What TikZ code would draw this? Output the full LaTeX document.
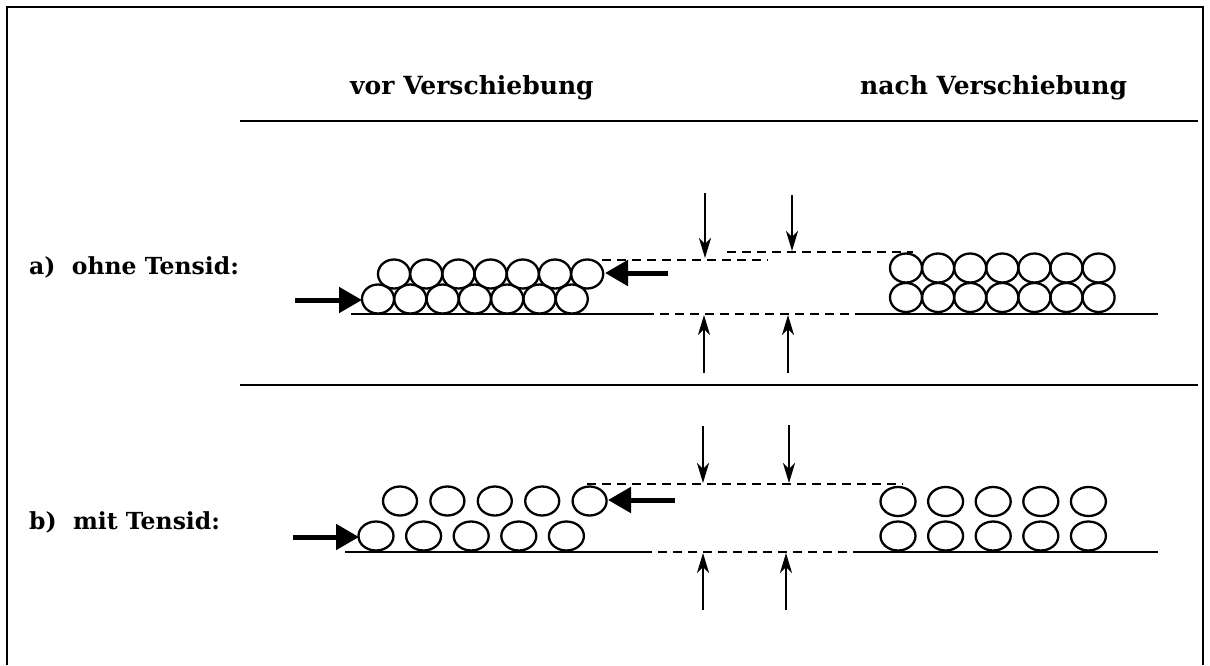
\documentclass[tikz,border=0pt]{standalone}
\usepackage{fontspec}
\setmainfont{DejaVu Serif}
\usetikzlibrary{arrows.meta}
\begin{document}
\begin{tikzpicture}[x=1pt,y=-1pt,
  lbl/.style={anchor=base west,inner sep=0pt,font=\fontsize{23.5}{26}\selectfont\bfseries},
  ttl/.style={anchor=base west,inner sep=0pt,font=\fontsize{25}{28}\selectfont\bfseries},
  solidline/.style={line width=2.4pt},
  dashline/.style={line width=2.4pt,dash pattern=on 9pt off 6pt},
  particle/.style={line width=2.3pt},
  thinarrow/.style={line width=2.2pt,-{Stealth[length=20pt,width=12pt,inset=6pt]}},
  pusharrow/.style={line width=5pt,-{Triangle[length=23pt,width=25pt]}}]
\useasboundingbox (0,0) rectangle (1210,665);
% frame
\draw[line width=2pt] (7,665) -- (7,7) -- (1203,7) -- (1203,665);
% headings
\node[ttl] (h1) at (350,94) {vor Verschiebung};
\node[ttl] (h2) at (860,94) {nach Verschiebung};
\node[lbl] (la) at (29,274) {a)\ \ ohne Tensid:};
\node[lbl] (lb) at (29,529) {b)\ \ mit Tensid:};
% separators
\coordinate (s1a) at (240,121); \coordinate (s1b) at (1198,121);
\coordinate (s2a) at (240,385); \coordinate (s2b) at (1198,385);
\draw[solidline] (s1a) -- (s1b);
\draw[solidline] (s2a) -- (s2b);

% ---------- row a ----------
\foreach \i in {0,...,6}{
  \draw[particle] (394+32.2*\i,274) ellipse [x radius=16,y radius=14.5];
  \draw[particle] (378+32.3*\i,299) ellipse [x radius=16,y radius=14.5];
  \draw[particle] (906+32.1*\i,268) ellipse [x radius=16,y radius=14.5];
  \draw[particle] (906+32.1*\i,297.5) ellipse [x radius=16,y radius=14.5];
}
\coordinate (aB0) at (351,314); \coordinate (aB1) at (645,314);
\coordinate (aB2) at (855,314); \coordinate (aB3) at (1158,314);
\draw[solidline] (aB0) -- (aB1);
\draw[dashline] (aB1) -- (aB2);
\draw[solidline] (aB2) -- (aB3);
\coordinate (aU0) at (602,260); \coordinate (aU1) at (768,260);
\draw[dashline] (aU0) -- (aU1);
\coordinate (aV0) at (727,252); \coordinate (aV1) at (913,252);
\draw[dashline] (aV0) -- (aV1);
% push arrows a
\coordinate (aPl0) at (295,300); \coordinate (aPl1) at (362,300);
\coordinate (aPr0) at (668,273); \coordinate (aPr1) at (605,273);
\draw[pusharrow] (aPl0) -- (aPl1);
\draw[pusharrow] (aPr0) -- (aPr1);
% vertical arrows a
\coordinate (aD1s) at (705,193); \coordinate (aD1e) at (705,258);
\coordinate (aD2s) at (792,195); \coordinate (aD2e) at (792,251);
\coordinate (aE1s) at (704,373); \coordinate (aE1e) at (704,315);
\coordinate (aE2s) at (788,373); \coordinate (aE2e) at (788,315);
\draw[thinarrow] (aD1s) -- (aD1e);
\draw[thinarrow] (aD2s) -- (aD2e);
\draw[thinarrow] (aE1s) -- (aE1e);
\draw[thinarrow] (aE2s) -- (aE2e);

% ---------- row b ----------
\foreach \i in {0,...,4}{
  \draw[particle] (400+47.4*\i,501) ellipse [x radius=17,y radius=14.5];
  \draw[particle] (376+47.6*\i,536) ellipse [x radius=17.5,y radius=14.5];
  \draw[particle] (898+47.6*\i,501.5) ellipse [x radius=17.5,y radius=14.5];
  \draw[particle] (898+47.6*\i,536) ellipse [x radius=17.5,y radius=14.5];
}
\coordinate (bB0) at (345,552); \coordinate (bB1) at (643,552);
\coordinate (bB2) at (855,552); \coordinate (bB3) at (1158,552);
\draw[solidline] (bB0) -- (bB1);
\draw[dashline] (bB1) -- (bB2);
\draw[solidline] (bB2) -- (bB3);
\coordinate (bU0) at (587,484); \coordinate (bU1) at (903,484);
\draw[dashline] (bU0) -- (bU1);
% push arrows b
\coordinate (bPl0) at (293,537); \coordinate (bPl1) at (359,537);
\coordinate (bPr0) at (675,500); \coordinate (bPr1) at (608,500);
\draw[pusharrow] (bPl0) -- (bPl1);
\draw[pusharrow] (bPr0) -- (bPr1);
% vertical arrows b
\coordinate (bD1s) at (703,426); \coordinate (bD1e) at (703,483);
\coordinate (bD2s) at (789,425); \coordinate (bD2e) at (789,483);
\coordinate (bE1s) at (703,610); \coordinate (bE1e) at (703,553);
\coordinate (bE2s) at (786,610); \coordinate (bE2e) at (786,553);
\draw[thinarrow] (bD1s) -- (bD1e);
\draw[thinarrow] (bD2s) -- (bD2e);
\draw[thinarrow] (bE1s) -- (bE1e);
\draw[thinarrow] (bE2s) -- (bE2e);
\end{tikzpicture}
\end{document}
